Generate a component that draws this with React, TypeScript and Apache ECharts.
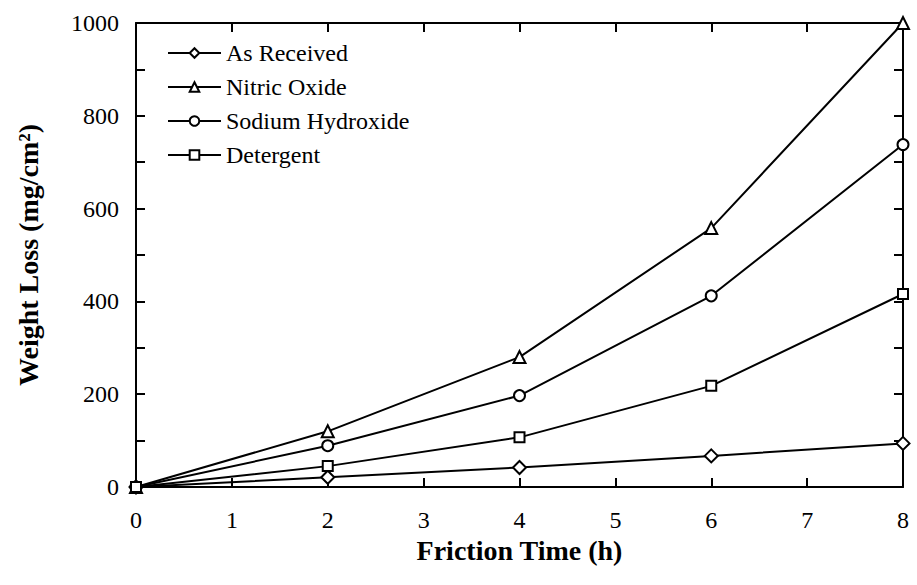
import React, { useEffect, useRef } from "react";
import * as echarts from "echarts";

const frictionTime = [0, 2, 4, 6, 8];
const asReceived = [0, 21, 42, 67, 94];
const nitricOxide = [0, 120, 280, 558, 1000];
const sodiumHydroxide = [0, 89, 197, 412, 738];
const detergent = [0, 45, 107, 218, 416];
const seriesNames = ["As Received", "Nitric Oxide", "Sodium Hydroxide", "Detergent"];
const seriesSymbols = ["diamond", "triangle", "circle", "rect"];

const FONT = "Liberation Serif";

export default function App() {
  const ref = useRef<HTMLDivElement>(null);
  useEffect(() => {
    document.body.style.margin = "0";
    if (!ref.current) return;
    const chart = echarts.init(ref.current, undefined, { renderer: "svg" });
    const values = [asReceived, nitricOxide, sodiumHydroxide, detergent];
    const symbolSizes = [13, 12, 11, 10];
    const axisCommon = {
      axisLine: { show: true, onZero: false, lineStyle: { color: "#000", width: 2 } },
      axisTick: { show: true, inside: true, length: 9, lineStyle: { color: "#000", width: 2 } },
      splitLine: { show: false },
    };
    const minor = { show: true, splitNumber: 2, length: 9, lineStyle: { color: "#000", width: 2 } };
    chart.setOption({
      animation: false,
      backgroundColor: "#fff",
      textStyle: { fontFamily: FONT, color: "#000" },
      grid: { left: 136, right: 14, top: 23, bottom: 98 },
      legend: {
        orient: "vertical",
        left: 167,
        top: 41,
        padding: 0,
        itemWidth: 53,
        itemHeight: 12,
        itemGap: 10,
        textStyle: { fontFamily: FONT, fontSize: 24, color: "#000", lineHeight: 24 },
        data: seriesNames,
      },
      xAxis: [
        {
          type: "value",
          min: 0,
          max: 8,
          interval: 1,
          position: "bottom",
          name: "Friction Time (h)",
          nameLocation: "middle",
          nameGap: 42,
          nameTextStyle: { fontFamily: FONT, fontSize: 28, fontWeight: "bold", color: "#000" },
          axisLabel: { fontFamily: FONT, fontSize: 24, color: "#000", margin: 21 },
          ...axisCommon,
        },
        {
          type: "value",
          min: 0,
          max: 8,
          interval: 1,
          position: "top",
          axisLabel: { show: false },
          ...axisCommon,
        },
      ],
      yAxis: [
        {
          type: "value",
          min: 0,
          max: 1000,
          interval: 200,
          position: "left",
          name: "Weight Loss (mg/cm²)",
          nameLocation: "middle",
          nameGap: 94,
          nameTextStyle: { fontFamily: FONT, fontSize: 28, fontWeight: "bold", color: "#000" },
          axisLabel: {
            fontFamily: FONT,
            fontSize: 24,
            color: "#000",
            margin: 17,
            formatter: (v: number) => String(v),
          },
          minorTick: minor,
          ...axisCommon,
        },
        {
          type: "value",
          min: 0,
          max: 1000,
          interval: 200,
          position: "right",
          axisLabel: { show: false },
          minorTick: minor,
          ...axisCommon,
        },
      ],
      series: seriesNames.map((name, i) => ({
        name,
        type: "line",
        xAxisIndex: 0,
        yAxisIndex: 0,
        data: frictionTime.map((x, j) => [x, values[i][j]]),
        symbol: seriesSymbols[i],
        symbolSize: symbolSizes[i],
        showAllSymbol: true,
        clip: false,
        lineStyle: { color: "#000", width: 2 },
        itemStyle: { color: "#fff", borderColor: "#000", borderWidth: 2 },
        emphasis: { disabled: true },
      })),
    });
    return () => chart.dispose();
  }, []);
  return <div ref={ref} style={{ width: 917, height: 585 }} />;
}
